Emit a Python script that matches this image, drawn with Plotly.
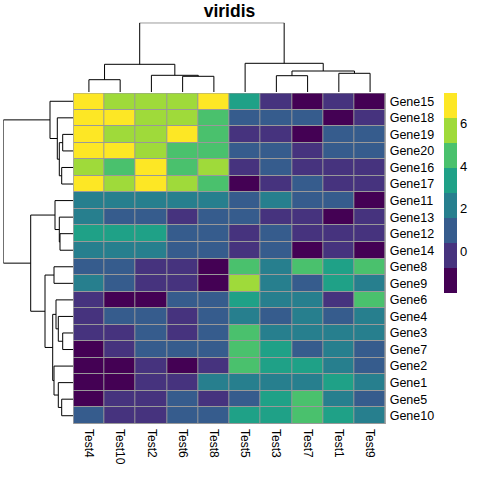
import plotly.graph_objects as go

W, H = 481, 477

columns = ["Test4", "Test10", "Test2", "Test6", "Test8", "Test5", "Test3", "Test7", "Test1", "Test9"]
genes = ["Gene15", "Gene18", "Gene19", "Gene20", "Gene16", "Gene17", "Gene11", "Gene13", "Gene12", "Gene14",
         "Gene8", "Gene9", "Gene6", "Gene4", "Gene3", "Gene7", "Gene2", "Gene1", "Gene5", "Gene10"]

# values per gene (row), in column order above
values = [
    [6.9, 5.7, 5.7, 5.7, 6.9, 3.3, -0.2, -1.4, -0.2, -1.4],   # Gene15
    [6.9, 6.9, 5.7, 5.7, 4.5, 1.0, 1.0, 1.0, -1.4, -0.2],     # Gene18
    [6.9, 5.7, 5.7, 6.9, 4.5, -0.2, -0.2, -1.4, 1.0, 1.0],    # Gene19
    [6.9, 6.9, 5.7, 4.5, 4.5, 1.0, 1.0, -0.2, 1.0, 1.0],      # Gene20
    [5.7, 4.5, 6.9, 4.5, 5.7, -0.2, 1.0, -0.2, -0.2, -0.2],   # Gene16
    [6.9, 5.7, 6.9, 5.7, 4.5, -1.4, -0.2, 1.0, -0.2, -0.2],   # Gene17
    [2.2, 2.2, 2.2, 2.2, 2.2, 1.0, 2.2, 1.0, 1.0, -1.4],      # Gene11
    [2.2, 1.0, 1.0, -0.2, 1.0, 1.0, -0.2, -0.2, -1.4, -0.2],  # Gene13
    [3.3, 3.3, 3.3, 1.0, 1.0, -0.2, 1.0, -0.2, -0.2, -0.2],   # Gene12
    [2.2, 2.2, 2.2, 1.0, 1.0, -0.2, 1.0, -1.4, -0.2, -1.4],   # Gene14
    [1.0, 1.0, -0.2, -0.2, -1.4, 4.5, 2.2, 4.5, 3.3, 4.5],    # Gene8
    [2.2, 1.0, -0.2, -0.2, -1.4, 5.7, 2.2, 1.0, 3.3, 2.2],    # Gene9
    [-0.2, -1.4, -1.4, 1.0, 1.0, 3.3, 2.2, 2.2, -0.2, 4.5],   # Gene6
    [-0.2, 1.0, 1.0, -0.2, 1.0, 2.2, 1.0, 2.2, 1.0, 2.2],     # Gene4
    [-0.2, -0.2, 1.0, -0.2, 1.0, 4.5, 2.2, 2.2, 2.2, 2.2],    # Gene3
    [-1.4, -0.2, 1.0, 1.0, 1.0, 4.5, 3.3, 1.0, 2.2, 1.0],     # Gene7
    [-1.4, -1.4, -0.2, -1.4, -0.2, 4.5, 3.3, 3.3, 2.2, 1.0],  # Gene2
    [-1.4, -1.4, -0.2, -0.2, 2.2, 2.2, 2.2, 2.2, 3.3, 2.2],   # Gene1
    [-1.4, -0.2, -0.2, 1.0, -0.2, 1.0, 3.3, 4.5, 2.2, 1.0],   # Gene5
    [1.0, -0.2, -0.2, 1.0, 1.0, 3.3, 3.3, 4.5, 3.3, 2.2],     # Gene10
]

palette = ["#440154", "#46337E", "#365C8D", "#277F8E", "#1FA187", "#4AC16D", "#9FDA3A", "#FDE725"]
z_min, z_max = -1.98, 7.46
legend_ticks = [0, 2, 4, 6]

# dendrogram merges: (left, right, height, name)
row_merges = [
    ("Gene19", "Gene20", 10.6, "a"),
    ("Gene16", "Gene17", 11.6, "b"),
    ("a", "b", 14.0, "c"),
    ("Gene18", "c", 16.0, "d"),
    ("Gene15", "d", 23.3, "e"),
    ("Gene12", "Gene14", 13.3, "f"),
    ("Gene13", "f", 14.0, "g"),
    ("Gene11", "g", 18.3, "h"),
    ("Gene8", "Gene9", 19.3, "i"),
    ("Gene3", "Gene7", 10.6, "j"),
    ("Gene4", "j", 15.0, "k"),
    ("Gene6", "k", 17.3, "l"),
    ("Gene5", "Gene10", 11.6, "m"),
    ("Gene1", "m", 15.0, "n"),
    ("Gene2", "n", 19.3, "o"),
    ("l", "o", 20.6, "p"),
    ("i", "p", 28.3, "q"),
    ("h", "q", 42.6, "r"),
    ("e", "r", 70.0, "root"),
]
col_merges = [
    ("Test6", "Test8", 15.7, "A"),
    ("Test2", "A", 16.7, "B"),
    ("Test4", "Test10", 12.3, "C"),
    ("C", "B", 27.7, "D"),
    ("Test3", "Test7", 16.3, "E"),
    ("Test1", "Test9", 18.7, "F"),
    ("E", "F", 21.0, "G"),
    ("Test5", "G", 28.7, "H"),
    ("D", "H", 69.3, "root"),
]


def dendro_paths(leaves, merges):
    pos = {name: i for i, name in enumerate(leaves)}
    hgt = {name: 0.0 for name in leaves}
    xs, hs = [], []
    for l, r, h, nm in merges:
        xs += [pos[l], pos[l], pos[r], pos[r], None]
        hs += [hgt[l], h, h, hgt[r], None]
        pos[nm] = (pos[l] + pos[r]) / 2
        hgt[nm] = h
    return xs, hs, max(m[2] for m in merges)


# pixel layout
hx0, hx1 = 73.3, 385.7
hy0, hy1 = 93.0, 424.0
cd_base, cd_top = 92.0, 22.7
rd_left, rd_right = 3.3, 73.3


def px(x):
    return x / W


def py(y):
    return 1 - y / H


n_col, n_row = len(columns), len(genes)
cs = []
for i, c in enumerate(palette):
    cs.append([i / len(palette), c])
    cs.append([(i + 1) / len(palette), c])

font = "Liberation Sans, Arial, Helvetica, sans-serif"

fig = go.Figure()
fig.add_trace(go.Heatmap(
    z=values, x=list(range(n_col)), y=list(range(n_row)),
    colorscale=cs, zmin=z_min, zmax=z_max, xgap=1, ygap=1,
    xaxis="x", yaxis="y",
    colorbar=dict(
        x=px(444), xanchor="left", xpad=0,
        y=py(93), yanchor="top", ypad=0,
        lenmode="pixels", len=200, thicknessmode="pixels", thickness=13,
        outlinewidth=0, tickvals=legend_ticks, ticks="", ticklabelposition="outside",
        tickfont=dict(size=13, color="#000", family=font),
    ),
))

cx, ch, cmax = dendro_paths(columns, col_merges)
fig.add_trace(go.Scatter(x=cx, y=ch, mode="lines", line=dict(color="#000", width=1),
                         xaxis="x2", yaxis="y2", hoverinfo="skip", showlegend=False))
rx, rh, rmax = dendro_paths(genes, row_merges)
fig.add_trace(go.Scatter(x=rh, y=rx, mode="lines", line=dict(color="#000", width=1),
                         xaxis="x3", yaxis="y3", hoverinfo="skip", showlegend=False))

blank = dict(showgrid=False, zeroline=False, showticklabels=False, ticks="", showline=False, automargin=False)
fig.update_layout(
    width=W, height=H, margin=dict(l=0, r=0, t=0, b=0, autoexpand=False),
    paper_bgcolor="white", plot_bgcolor="#999999",
    font=dict(family=font, color="#000"),
    showlegend=False,
    title=dict(text="<b>viridis</b>", x=px((hx0 + hx1) / 2), xanchor="center",
               y=py(10.5), yanchor="middle", font=dict(size=17.5, color="#000", family=font)),
    xaxis=dict(domain=[px(hx0), px(hx1)], range=[-0.5, n_col - 0.5], tickvals=list(range(n_col)),
               ticktext=columns, tickangle=90, ticks="", showgrid=False, zeroline=False,
               tickfont=dict(size=12), ticklabelstandoff=4, automargin=False),
    yaxis=dict(domain=[py(hy1), py(hy0)], range=[n_row - 0.5, -0.5], tickvals=list(range(n_row)),
               ticktext=genes, side="right", ticks="", showgrid=False, zeroline=False,
               tickfont=dict(size=12.5), ticklabelstandoff=3, automargin=False),
    xaxis2=dict(domain=[px(hx0), px(hx1)], range=[-0.5, n_col - 0.5], anchor="y2", **blank),
    yaxis2=dict(domain=[py(cd_base), py(cd_top)], range=[0, cmax], anchor="x2", **blank),
    xaxis3=dict(domain=[px(rd_left), px(rd_right)], range=[rmax, 0], anchor="y3", **blank),
    yaxis3=dict(domain=[py(hy1), py(hy0)], range=[n_row - 0.5, -0.5], anchor="x3", **blank),
)
fig.update_layout(
    shapes=[dict(type="rect", xref="x", yref="y", x0=-0.5, x1=n_col - 0.5, y0=-0.5, y1=n_row - 0.5,
                 line=dict(color="#999999", width=1), layer="above")]
)
# dendrogram panels should be white
fig.add_shape(type="rect", xref="paper", yref="paper", x0=0, x1=1, y0=py(cd_base) + 0.0001, y1=1,
              fillcolor="white", line_width=0, layer="below")
fig.add_shape(type="rect", xref="paper", yref="paper", x0=0, x1=px(rd_right) - 0.0001, y0=0, y1=1,
              fillcolor="white", line_width=0, layer="below")

fig.write_html("out.html", config={"displayModeBar": False},
               post_script="document.body.style.margin='0';document.body.style.overflow='hidden';")
